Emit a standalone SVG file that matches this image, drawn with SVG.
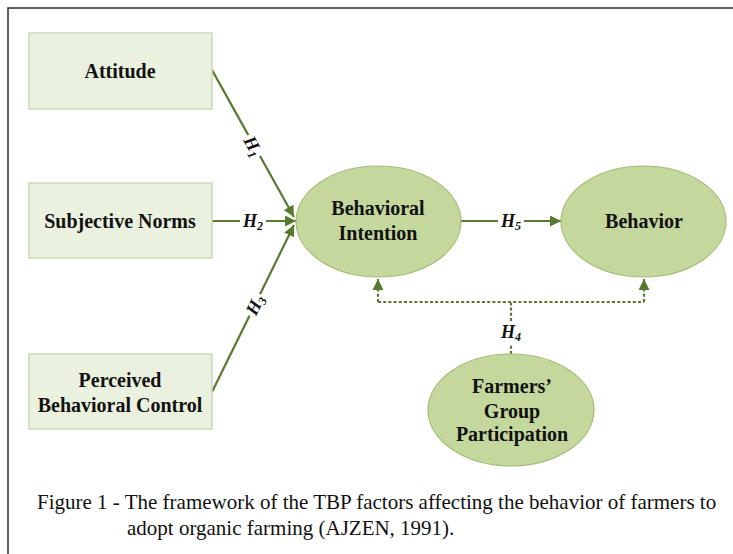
<svg xmlns="http://www.w3.org/2000/svg" width="733" height="554" viewBox="0 0 733 554">
<style>
.box{fill:#ebf1df;stroke:#cbd9b6;stroke-width:1.5}
.ell{fill:#c4d79d;stroke:#a3bd76;stroke-width:1.2}
.lbl{font-family:"Liberation Serif","Times New Roman",serif;font-weight:bold;font-size:20px;fill:#111;text-anchor:middle}
.h{font-family:"Liberation Serif","Times New Roman",serif;font-weight:bold;font-style:italic;font-size:18px;fill:#111;text-anchor:middle}
.ln{stroke:#587a30;stroke-width:2.2;fill:none}
.dot{stroke:#587a30;stroke-width:2.2;fill:none;stroke-dasharray:3 2.2}
.cap{font-family:"Liberation Serif","Times New Roman",serif;font-size:21px;fill:#111}
</style>
<defs>
<marker id="ah" viewBox="0 0 10 10" refX="10" refY="5" markerWidth="5.5" markerHeight="5" orient="auto" markerUnits="strokeWidth">
<path d="M0,0 L10,5 L0,10 Z" fill="#587a30"/>
</marker>
</defs>
<rect x="0" y="0" width="733" height="554" fill="#fff"/>
<rect x="8" y="8" width="740" height="560" fill="none" stroke="#3a3a3a" stroke-width="1.6"/>

<g id="connectors">
<line class="ln" x1="212" y1="70" x2="294" y2="217" marker-end="url(#ah)"/>
<line class="ln" x1="212" y1="221" x2="296" y2="221" marker-end="url(#ah)"/>
<line class="ln" x1="212" y1="392" x2="294" y2="225" marker-end="url(#ah)"/>
<line class="ln" x1="461" y1="221" x2="561" y2="221" marker-end="url(#ah)"/>
<path class="dot" d="M511,354 V345"/>
<path class="dot" d="M511,321 V302 M378,302 H644"/>
<path class="dot" d="M378,302 V279" marker-end="url(#ah)"/>
<path class="dot" d="M644,302 V279" marker-end="url(#ah)"/>
<g transform="translate(253,146) rotate(60.8)">
<rect x="-12" y="-10" width="24" height="20" fill="#fff"/>
<text class="h" x="0" y="6">H<tspan font-size="12" dy="3">1</tspan></text>
</g>
<rect x="240" y="212" width="26" height="18" fill="#fff"/>
<text class="h" x="253" y="227">H<tspan font-size="12" dy="3">2</tspan></text>
<g transform="translate(255,305) rotate(-64)">
<rect x="-12" y="-10" width="24" height="20" fill="#fff"/>
<text class="h" x="0" y="6">H<tspan font-size="12" dy="3">3</tspan></text>
</g>
<text class="h" x="511" y="338">H<tspan font-size="12" dy="3">4</tspan></text>
<rect x="498" y="212" width="26" height="18" fill="#fff"/>
<text class="h" x="511" y="227">H<tspan font-size="12" dy="3">5</tspan></text>
</g>

<g id="attitude">
<rect class="box" x="29" y="33" width="183" height="76"/>
<text class="lbl" x="120" y="78">Attitude</text>
</g>
<g id="subjective-norms">
<rect class="box" x="29" y="183" width="183" height="75"/>
<text class="lbl" x="120" y="228">Subjective Norms</text>
</g>
<g id="perceived-behavioral-control">
<rect class="box" x="29" y="354" width="183" height="75"/>
<text class="lbl" x="120" y="387">Perceived</text>
<text class="lbl" x="120" y="412">Behavioral Control</text>
</g>
<g id="behavioral-intention">
<ellipse class="ell" cx="378.5" cy="221.5" rx="82.5" ry="55.5"/>
<text class="lbl" x="378" y="215">Behavioral</text>
<text class="lbl" x="378" y="240">Intention</text>
</g>
<g id="behavior">
<ellipse class="ell" cx="643.5" cy="221.5" rx="82.5" ry="55.5"/>
<text class="lbl" x="644" y="228">Behavior</text>
</g>
<g id="farmers-group-participation">
<ellipse class="ell" cx="511" cy="410" rx="83" ry="56"/>
<text class="lbl" x="512" y="393">Farmers’</text>
<text class="lbl" x="512" y="418">Group</text>
<text class="lbl" x="512" y="441">Participation</text>
</g>

<g id="caption">
<text class="cap" x="37" y="509">Figure 1 - The framework of the TBP factors affecting the behavior of farmers to</text>
<text class="cap" x="127" y="535">adopt organic farming (AJZEN, 1991).</text>
</g>
</svg>
